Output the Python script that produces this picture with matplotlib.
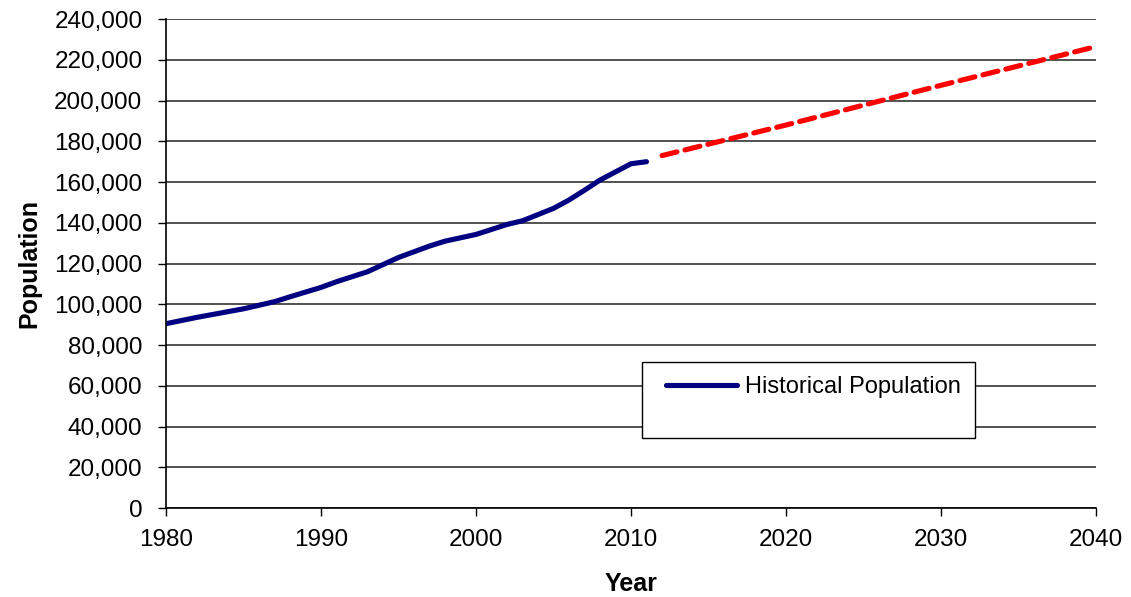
import matplotlib.pyplot as plt
from matplotlib.patches import Rectangle
from matplotlib.ticker import FuncFormatter

plt.rcParams['font.family'] = ['Liberation Sans', 'DejaVu Sans']

# historical population
hist_years = [1980, 1982, 1985, 1987, 1988, 1990, 1991, 1993, 1995, 1997, 1998,
              2000, 2002, 2003, 2005, 2006, 2007, 2008, 2009, 2010, 2011]
hist_pop = [90500, 93600, 97800, 101300, 103700, 108300, 111100, 116000, 123000,
            128600, 131000, 134300, 139200, 141000, 147100, 151200, 156000,
            161000, 165000, 169000, 170000]

# projected population (dashed red)
proj_years = [2012, 2020, 2030, 2040]
proj_pop = [173000, 188000, 207500, 226500]

y_ticks = list(range(0, 240001, 20000))
x_ticks = list(range(1980, 2041, 10))

fig = plt.figure(figsize=(11.31, 5.97), dpi=100)
ax = fig.add_axes([0.1468, 0.149, 0.8222, 0.819])

ax.plot(hist_years, hist_pop, color='#000080', lw=3.7, solid_capstyle='round',
        label='Historical Population')
ax.plot(proj_years, proj_pop, color='#ff0000', lw=3.7, dashes=(3.0, 1.6),
        dash_capstyle='round')

ax.set_xlim(1980, 2040)
ax.set_ylim(0, 240000)
ax.set_xticks(x_ticks)
ax.set_yticks(y_ticks)
ax.yaxis.set_major_formatter(FuncFormatter(lambda v, p: f'{int(v):,}'))
ax.tick_params(direction='out', length=6, width=1, labelsize=17.5, colors='black')
ax.tick_params(axis='y', pad=11)
ax.tick_params(axis='x', pad=9)
ax.grid(axis='y', color='#333333', lw=1.2)
ax.set_axisbelow(True)

for s in ['top', 'right']:
    ax.spines[s].set_visible(False)
for s in ['left', 'bottom']:
    ax.spines[s].set_linewidth(1.2)

ax.set_xlabel('Year', fontsize=18, fontweight='bold', labelpad=15)
ax.set_ylabel('Population', fontsize=18, fontweight='bold', labelpad=9)

ax.add_patch(Rectangle((0.512, 0.143), 0.358, 0.156, transform=ax.transAxes,
                       facecolor='white', edgecolor='black', lw=1, zorder=5))
leg = ax.legend(loc='center left', bbox_to_anchor=(0.515, 0.248), frameon=False,
                fontsize=17, handlelength=3.0, handletextpad=0.35)
leg.set_zorder(6)

plt.savefig('out.png', dpi=100)
